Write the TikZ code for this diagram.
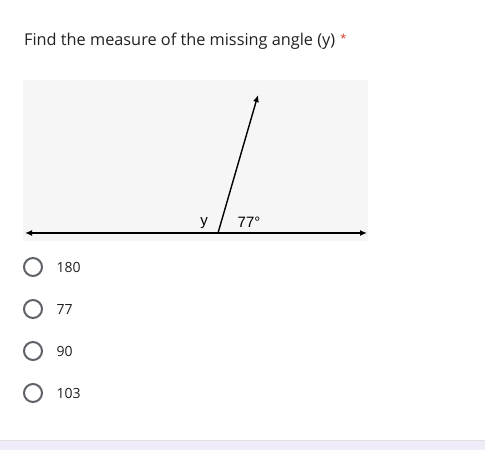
\documentclass[tikz,border=0pt]{standalone}
\usepackage{fontspec}
\setmainfont{Open Sans}
\newfontfamily\figfont{Liberation Sans}
\usetikzlibrary{arrows.meta}
\definecolor{formtext}{HTML}{202124}
\definecolor{radiogray}{HTML}{5F6368}
\definecolor{imgbg}{HTML}{F6F6F6}
\definecolor{lavender}{HTML}{F0EBF8}
\definecolor{reqred}{HTML}{D93025}
\tikzset{
  radio/.style={draw=radiogray, line width=2pt, circle, minimum size=18pt, inner sep=0pt},
  option/.style={anchor=west, text=formtext, font=\fontsize{14}{17}\selectfont},
  figlabel/.style={text=black, inner sep=0pt, font=\figfont\fontsize{15}{17}\selectfont},
}
\begin{document}
\begin{tikzpicture}[x=1pt,y=-1pt]
	\useasboundingbox (0,0) rectangle (485,450);
	
	% Page background and card edge
	\fill[lavender] (0,430) rectangle (485,450);
	\fill[white, rounded corners=8pt] (-20,-20) rectangle (505,440);
	\draw[black!12] (0,440) -- (485,440);
	
	% Question title with required mark
	\node[anchor=base west, text=formtext, font=\fontsize{16.3}{20}\selectfont, inner sep=0pt] (title) at (24,45) {Find the measure of the missing angle (y)};
	\node[anchor=north, text=reqred, inner sep=0pt, font=\fontsize{11}{13}\selectfont] (req) at (343.5,34) {*};
	
	% Image area
	\fill[imgbg] (23,80) rectangle (368,241);
	
	% Straight line through O and the ray at 77 degrees
	\coordinate (L) at (25,233);
	\coordinate (R) at (367,233);
	\coordinate (O) at (218,233);
	\coordinate (T) at (258,95);
	\draw[line width=1.4pt, {Latex[length=7pt,width=6pt]}-{Latex[length=7pt,width=6pt]}] (L) -- (R);
	\draw[line width=1.4pt, -{Latex[length=7pt,width=6pt]}] (O) -- (T);
	
	% Angle labels
	\node[figlabel, anchor=base] (ylab) at (204,225) {y};
	\node[figlabel, anchor=base] (ang) at (249,227) {77°};
	
	% Answer choices
	\foreach \v [count=\i] in {180,77,90,103}
	{
		\node[radio] (radio\i) at (33,225+42*\i) {};
		\node[option] (opt\i) at (53,225+42*\i) {\v};
	}
\end{tikzpicture}
\end{document}
